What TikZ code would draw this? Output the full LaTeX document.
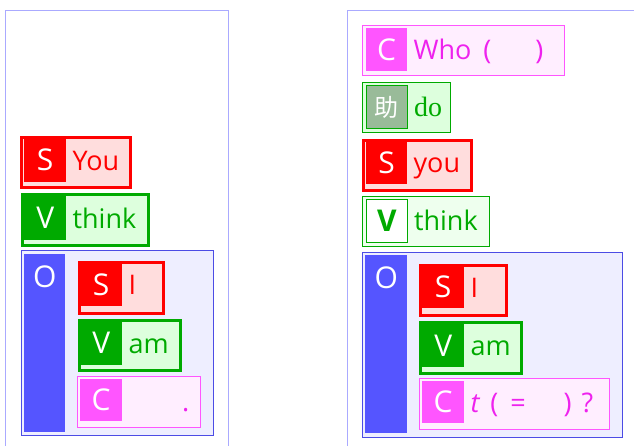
\documentclass[tikz,border=0pt]{standalone}
\usepackage{fontspec}
\setmainfont{Open Sans}
\newfontfamily\cjkfont{Noto Sans CJK SC}
\newfontfamily\timesfont{Liberation Serif}
\usepackage{tikz}
\usetikzlibrary{positioning}

\definecolor{framec}{HTML}{AAAAFF}
\definecolor{sred}{HTML}{FF0000}
\definecolor{sredbg}{HTML}{FFDDDD}
\definecolor{vgreen}{HTML}{00AA00}
\definecolor{vgreenbg}{HTML}{DDFFDD}
\definecolor{vgreenpale}{HTML}{EEFFEE}
\definecolor{cmag}{HTML}{FF55FF}
\definecolor{cmagtext}{HTML}{EE22EE}
\definecolor{cmagbg}{HTML}{FFEEFF}
\definecolor{oblue}{HTML}{5555FF}
\definecolor{obluebg}{HTML}{EEEEFF}
\definecolor{auxgray}{HTML}{99BB99}

\begin{document}
\begin{tikzpicture}[x=1pt, y=-1pt,
    bigfont/.style={font=\fontsize{27}{30}\selectfont},
    tagfont/.style={font=\fontsize{30}{32}\selectfont},
    phrase/.style={rectangle, anchor=north west, inner sep=0pt},
    sbox/.style={phrase, draw=sred, line width=3pt, fill=sredbg},
    vbox/.style={phrase, draw=vgreen, line width=3pt, fill=vgreenbg},
    cbox/.style={phrase, draw=cmag, line width=1pt, fill=cmagbg},
    obox/.style={phrase, draw=oblue!90!black, line width=1pt, fill=obluebg},
    tagsq/.style={rectangle, anchor=north west, inner sep=0pt, text=white,
                  minimum width=42pt, minimum height=43pt, tagfont},
    word/.style={anchor=base west, inner sep=0pt, bigfont}
]
\useasboundingbox (0,0) rectangle (634,445);
%% outer frames
\draw[framec, line width=1pt] (5,446) -- (5,10.5) -- (228,10.5) -- (228,446);
\draw[framec, line width=1pt] (347,446) -- (347,10.5) -- (634,10.5);

%% ---- left: You think I am ... ----
\node[sbox, minimum width=109pt, minimum height=50pt] (youbox) at (20,135.5) {};
\node[tagsq, fill=sred, minimum height=44pt] (youtag) at (24,138) {S};
\node[word, text=sred] (youtxt) at ([xshift=6pt, yshift=-10pt]youtag.east) {You};

\node[vbox, minimum width=126pt, minimum height=51pt] (thinkbox) at (21,192.5) {};
\node[tagsq, fill=vgreen, minimum height=44pt] (thinktag) at (24,196) {V};
\node[word, text=vgreen] (thinktxt) at ([xshift=6pt, yshift=-10pt]thinktag.east) {think};

\node[obox, minimum width=192pt, minimum height=185pt] (obox) at (20.5,249.5) {};
\node[phrase, fill=oblue, minimum width=41pt, minimum height=178pt] (obar) at (24,254) {};
\node[tagfont, text=white] (otag) at ([yshift=-23pt]obar.north) {O};

\node[sbox, minimum width=84pt, minimum height=51pt] (ibox) at (78,260.5) {};
\node[tagsq, fill=sred] (itag) at (80,263) {S};
\node[word, text=sred] (itxt) at ([xshift=6pt, yshift=-10pt]itag.east) {I};

\node[vbox, minimum width=101pt, minimum height=50pt] (ambox) at (78,318.5) {};
\node[tagsq, fill=vgreen, minimum height=44pt] (amtag) at (80,321) {V};
\node[word, text=vgreen] (amtxt) at ([xshift=6pt, yshift=-10pt]amtag.east) {am};

\node[cbox, minimum width=123pt, minimum height=51pt] (cbox) at (76.5,375.5) {};
\node[tagsq, fill=cmag, minimum height=42pt] (ctag) at (80,379) {C};
\node[word, text=cmagtext] (ctxt) at (182,411) {.};

%% ---- right: Who do you think I am? ----
\node[cbox, minimum width=202pt, minimum height=50pt] (whobox) at (361.5,24.5) {};
\node[tagsq, fill=cmag, minimum width=41pt] (whotag) at (366,28) {C};
\node[word, text=cmagtext] (whotxt) at ([xshift=6pt, yshift=-10pt]whotag.east) {Who\hspace{12pt}(\hspace{44pt})};

\node[phrase, draw=vgreen, line width=1pt, fill=vgreenbg, minimum width=88pt, minimum height=50pt] (dobox) at (361.5,81.5) {};
\node[tagsq, fill=auxgray, draw=vgreen, line width=0.8pt, minimum width=41pt] (dotag) at (366,85) {\cjkfont\fontsize{24}{28}\selectfont 助};
\node[word, text=vgreen, font=\timesfont\fontsize{28}{30}\selectfont] (dotxt) at ([xshift=6pt, yshift=-10pt]dotag.east) {do};

\node[sbox, minimum width=108pt, minimum height=50pt] (youRbox) at (362,138.5) {};
\node[tagsq, fill=sred, minimum width=41pt] (youRtag) at (366,141) {S};
\node[word, text=sred] (youRtxt) at ([xshift=6pt, yshift=-10pt]youRtag.east) {you};

\node[phrase, draw=vgreen, line width=1pt, fill=vgreenpale, minimum width=127pt, minimum height=50pt] (thinkRbox) at (361.5,195.5) {};
\node[tagsq, fill=white, draw=vgreen, line width=0.8pt, text=vgreen, minimum width=41pt] (thinkRtag) at (366,199) {\textbf{V}};
\node[word, text=vgreen] (thinkRtxt) at ([xshift=6pt, yshift=-10pt]thinkRtag.east) {think};

\node[obox, minimum width=260pt, minimum height=185pt] (oRbox) at (361.5,251.5) {};
\node[phrase, fill=oblue, minimum width=42pt, minimum height=178pt] (oRbar) at (365,255) {};
\node[tagfont, text=white] (oRtag) at ([yshift=-23pt]oRbar.north) {O};

\node[sbox, minimum width=86pt, minimum height=50pt] (iRbox) at (419,263.5) {};
\node[tagsq, fill=sred, minimum height=42pt] (iRtag) at (422,266) {S};
\node[word, text=sred] (iRtxt) at ([xshift=6pt, yshift=-10pt]iRtag.east) {I};

\node[vbox, minimum width=101pt, minimum height=51pt] (amRbox) at (419,320.5) {};
\node[tagsq, fill=vgreen] (amRtag) at (422,324) {V};
\node[word, text=vgreen] (amRtxt) at ([xshift=6pt, yshift=-10pt]amRtag.east) {am};

\node[cbox, minimum width=190pt, minimum height=51pt] (cRbox) at (418.5,377.5) {};
\node[tagsq, fill=cmag, minimum height=42pt] (cRtag) at (422,381) {C};
\node[word, text=cmagtext] (cRtxt) at ([xshift=6pt, yshift=-10pt]cRtag.east) {\textit{t}\hspace{10pt}(\hspace{12pt}=\hspace{38pt})\hspace{10pt}?};
\end{tikzpicture}
\end{document}
